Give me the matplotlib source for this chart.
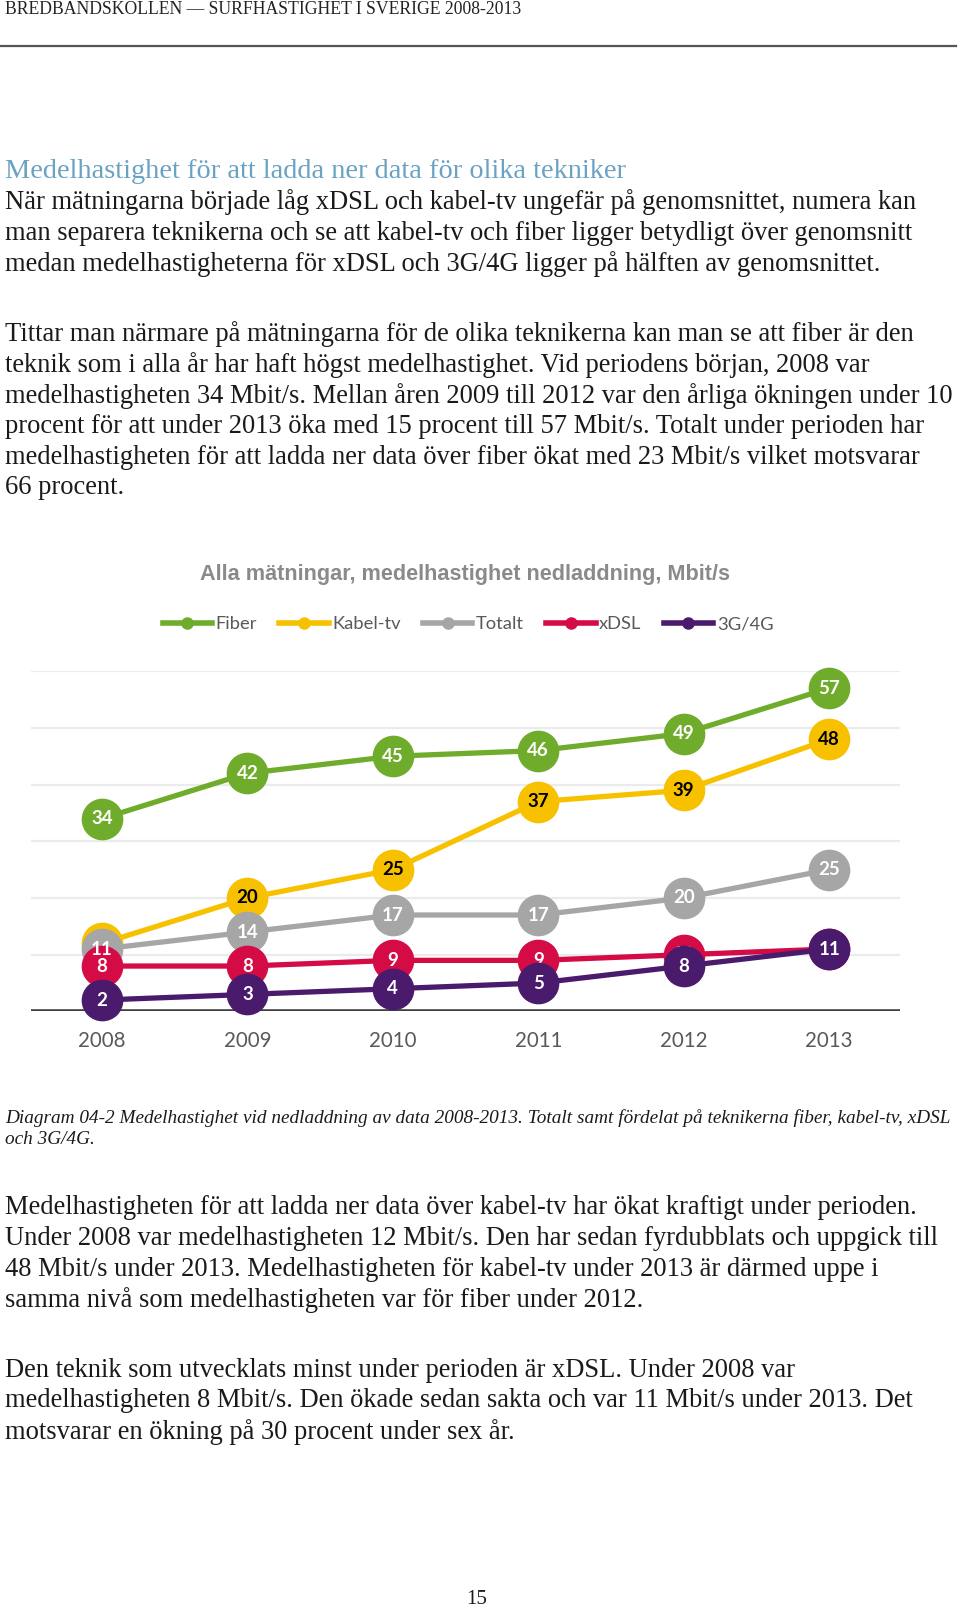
import matplotlib.pyplot as plt
from matplotlib.lines import Line2D

W, H = 960, 1611

years = ['2008', '2009', '2010', '2011', '2012', '2013']
series_names = ['Fiber', 'Kabel-tv', 'Totalt', 'xDSL', '3G/4G']
fiber = [34, 42, 45, 46, 49, 57]
kabel_tv = [12, 20, 25, 37, 39, 48]
totalt = [11, 14, 17, 17, 20, 25]
xdsl = [8, 8, 9, 9, 10, 11]
mobil = [2, 3, 4, 5, 8, 11]

colors = ['#6fac2b', '#f7c100', '#a6a6a6', '#d50b45', '#4a1b6c']
label_colors = ['white', 'black', 'white', 'white', 'white']

header = 'BREDBANDSKOLLEN \u2014 SURFHASTIGHET I SVERIGE 2008-2013'
section_title = 'Medelhastighet för att ladda ner data för olika tekniker'
para1 = [
    'När mätningarna började låg xDSL och kabel-tv ungefär på genomsnittet, numera kan',
    'man separera teknikerna och se att kabel-tv och fiber ligger betydligt över genomsnitt',
    'medan medelhastigheterna för xDSL och 3G/4G ligger på hälften av genomsnittet.',
]
para2 = [
    'Tittar man närmare på mätningarna för de olika teknikerna kan man se att fiber är den',
    'teknik som i alla år har haft högst medelhastighet. Vid periodens början, 2008 var',
    'medelhastigheten 34 Mbit/s. Mellan åren 2009 till 2012 var den årliga ökningen under 10',
    'procent för att under 2013 öka med 15 procent till 57 Mbit/s. Totalt under perioden har',
    'medelhastigheten för att ladda ner data över fiber ökat med 23 Mbit/s vilket motsvarar',
    '66 procent.',
]
chart_title = 'Alla mätningar, medelhastighet nedladdning, Mbit/s'
caption = [
    'Diagram 04-2 Medelhastighet vid nedladdning av data 2008-2013. Totalt samt fördelat på teknikerna fiber, kabel-tv, xDSL',
    'och 3G/4G.',
]
para3 = [
    'Medelhastigheten för att ladda ner data över kabel-tv har ökat kraftigt under perioden.',
    'Under 2008 var medelhastigheten 12 Mbit/s. Den har sedan fyrdubblats och uppgick till',
    '48 Mbit/s under 2013. Medelhastigheten för kabel-tv under 2013 är därmed uppe i',
    'samma nivå som medelhastigheten var för fiber under 2012.',
]
para4 = [
    'Den teknik som utvecklats minst under perioden är xDSL. Under 2008 var',
    'medelhastigheten 8 Mbit/s. Den ökade sedan sakta och var 11 Mbit/s under 2013. Det',
    'motsvarar en ökning på 30 procent under sex år.',
]
page_no = '15'


def fx(x):
    return x / W


def fy(y):
    return 1 - y / H


def write_lines(fig, lines, y0, step=30.8, **kw):
    for i, line in enumerate(lines):
        fig.text(fx(5), fy(y0 + i * step), line, va='center', ha='left', **kw)


fig = plt.figure(figsize=(W / 100, H / 100), dpi=100)
serif = 'Liberation Serif'
body = dict(family=serif, fontsize=19.1, color='#1a1a1a')

# page header
fig.text(fx(5), fy(9), header, family=serif, fontsize=12.7, color='#222222', va='center')
fig.add_artist(Line2D([0, fx(956)], [fy(46), fy(46)], color='#555555', lw=1.6))

fig.text(fx(5), fy(171), section_title, family=serif, fontsize=20.4,
         color='#6aa2c4', va='center')
write_lines(fig, para1, 202.5, **body)
write_lines(fig, para2, 334, **body)

# chart
fig.text(fx(465), fy(574.5), chart_title, family='Liberation Sans', fontsize=15.6,
         fontweight='bold', color='#8a8a8a', ha='center', va='center')

ax = fig.add_axes([fx(30.8), fy(1011.4), fx(900.4) - fx(30.8), fy(671.2) - fy(1011.4)])
all_series = [fiber, kabel_tv, totalt, xdsl, mobil]
x = list(range(len(years)))
line_z = [3, 4, 5, 6, 7]
text_z = [3.5, 4.5, 10, 6.5, 10]
for vals, c, tc, lz, tz in zip(all_series, colors, label_colors, line_z, text_z):
    ax.plot(x, vals, color=c, lw=3.8, marker='o', markersize=29,
            solid_capstyle='round', zorder=lz, clip_on=False)
    for xi, v in zip(x, vals):
        ax.text(xi, v, str(v), ha='center', va='center', color=tc,
                family='Lato', fontweight='bold', fontsize=13.5, zorder=tz)

ax.set_xlim(-0.49, 5.49)
ax.set_ylim(0, 60)
for g in range(10, 70, 10):
    ax.axhline(g, color='#ebebeb', lw=1.6, zorder=1)
ax.axhline(0, color='#404040', lw=2.6, zorder=2)
ax.set_yticks([])
ax.set_xticks(x, years)
ax.tick_params(axis='x', length=0, pad=14, labelsize=14.8, labelcolor='#595959')
for lab in ax.get_xticklabels():
    lab.set_family('Lato')
for s in ax.spines.values():
    s.set_visible(False)
ax.patch.set_alpha(0)

handles = [Line2D([], [], color=c, lw=4, marker='o', markersize=8) for c in colors]
leg = fig.legend(handles, series_names, loc='center', bbox_to_anchor=(fx(468), fy(624)),
                 ncol=5, frameon=False, handlelength=2.7, handletextpad=0.2,
                 columnspacing=1.2, prop={'family': 'Lato', 'size': 13.2})
for t in leg.get_texts():
    t.set_color('#595959')

# caption and remaining text
for i, line in enumerate(caption):
    fig.text(fx(5), fy(1118.4 + i * 21.6), line, family=serif, style='italic',
             fontsize=13.9, color='#1a1a1a', va='center')
write_lines(fig, para3, 1207.7, **body)
write_lines(fig, para4, 1370.1, **body)
fig.text(fx(477), fy(1600), page_no, family=serif, fontsize=15, color='#1a1a1a',
         ha='center', va='center')

fig.savefig('out.png', dpi=100)
